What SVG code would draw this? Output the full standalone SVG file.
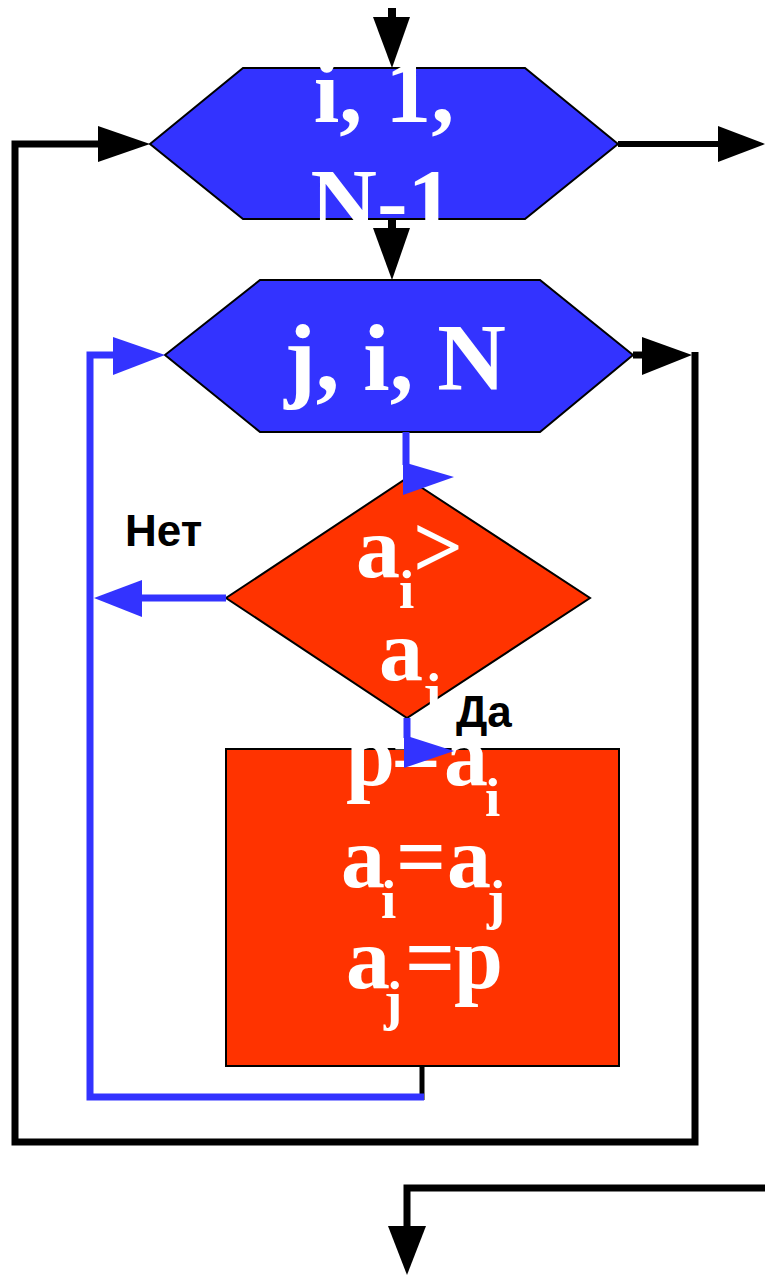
<svg xmlns="http://www.w3.org/2000/svg" width="765" height="1275" viewBox="0 0 765 1275">
<style>
.hex{fill:#3333FF;stroke:#000;stroke-width:2}
.red{fill:#FF3300;stroke:#000;stroke-width:2}
.t{font-family:"Liberation Serif","Times New Roman",serif;font-weight:bold;fill:#fff;font-size:88px}
.tb{font-family:"Liberation Serif","Times New Roman",serif;font-weight:bold;fill:#fff;font-size:92px}
.s{font-size:55px}
.lbl{font-family:"Liberation Sans",Arial,sans-serif;font-weight:bold;fill:#000;font-size:44px}
.bk{stroke:#000;stroke-width:7;fill:none}
.bl{stroke:#3333FF;stroke-width:7;fill:none}
.ah{fill:#000}
.ahb{fill:#3333FF}
</style>
<rect width="765" height="1275" fill="#fff"/>
<g id="loop-outer">
<polygon class="hex" points="150,144 243,68 525,68 618,144 525,219 243,219"/>
<text class="tb" text-anchor="middle" x="384" y="122">i, 1,</text>
<text class="tb" text-anchor="middle" x="382" y="232">N-1</text>
</g>
<g id="loop-inner">
<polygon class="hex" points="165,355 260,280 540,280 633,355 540,432 260,432"/>
<text class="tb" text-anchor="middle" x="395" y="390" style="font-size:95px">j, i, N</text>
</g>
<g id="condition">
<polygon class="red" points="407,478 590,598 407,718 226,598"/>
<text class="t" x="356" y="577">a<tspan class="s" x="399" dy="31">i</tspan><tspan x="413" dy="-31">&gt;</tspan></text>
<text class="t" x="379" y="680">a<tspan class="s" x="423" dy="31">j</tspan></text>
</g>
<g id="swap">
<rect class="red" x="226" y="749" width="393" height="317"/>
<text class="t" x="346" y="785">p<tspan x="391">=</tspan><tspan x="444">a</tspan><tspan class="s" x="485" dy="31">i</tspan></text>
<text class="t" x="341" y="887">a<tspan class="s" x="381" dy="31">i</tspan><tspan x="396" dy="-31">=</tspan><tspan x="447">a</tspan><tspan class="s" x="487" dy="31">j</tspan></text>
<text class="t" x="346" y="988">a<tspan class="s" x="384" dy="31">j</tspan><tspan x="405" dy="-31">=</tspan><tspan x="454">p</tspan></text>
</g>
<g id="label-net"><text class="lbl" x="125" y="546">Нет</text></g>
<g id="label-da"><text class="lbl" x="456" y="727">Да</text></g>
<g id="connectors">
<line class="bk" x1="392" y1="8" x2="392" y2="20" style="stroke-width:8"/>
<polygon class="ah" points="373,17 410,17 392,68"/>
<line class="bk" x1="618" y1="144" x2="720" y2="144" style="stroke-width:6"/>
<polygon class="ah" points="718,126 765,144 718,162"/>
<line class="bk" x1="392" y1="219" x2="392" y2="232" style="stroke-width:8"/>
<polygon class="ah" points="373,228 410,228 392,280"/>
<line class="bk" x1="633" y1="355" x2="645" y2="355"/>
<polygon class="ah" points="642,337 692,355 642,375"/>
<polyline class="bk" points="695,352 695,1142 15,1142 15,144 100,144"/>
<polygon class="ah" points="98,126 150,144 98,162"/>
<line class="bl" x1="406" y1="432" x2="406" y2="465"/>
<polygon class="ahb" points="403,462 454,477 403,495"/>
<line class="bl" x1="226" y1="598" x2="140" y2="598"/>
<polygon class="ahb" points="94,598 142,580 142,617"/>
<line class="bl" x1="407" y1="718" x2="407" y2="738"/>
<polygon class="ahb" points="404,735 454,751 404,768"/>
<line class="bk" x1="422" y1="1066" x2="422" y2="1100" style="stroke-width:5"/>
<polyline class="bl" points="424,1097 90,1097 90,355 115,355"/>
<polygon class="ahb" points="113,337 165,355 113,375"/>
<polyline class="bk" points="765,1188 407,1188 407,1230"/>
<polygon class="ah" points="388,1226 426,1226 407,1275"/>
</g>
</svg>
